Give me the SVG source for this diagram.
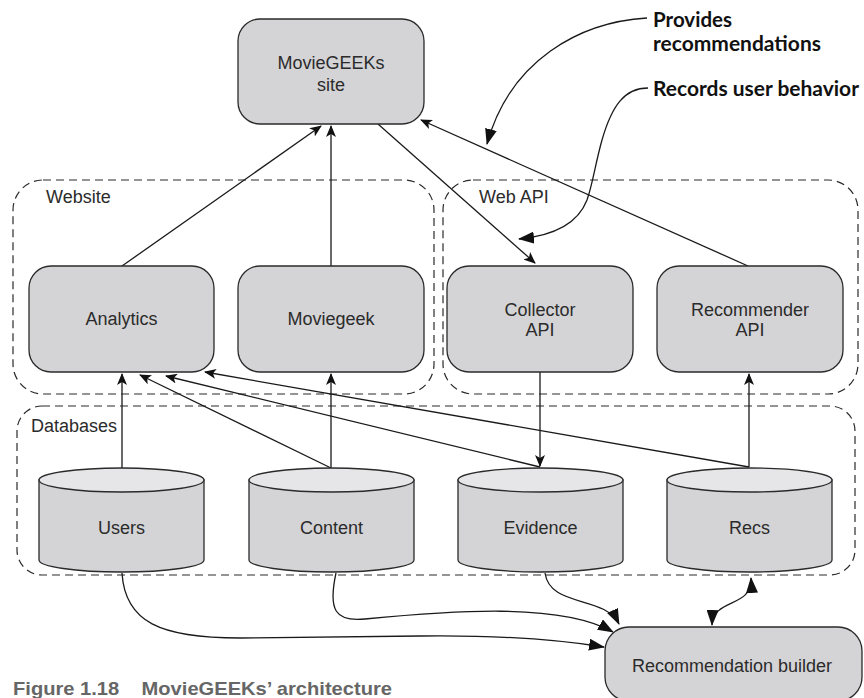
<svg xmlns="http://www.w3.org/2000/svg" width="864" height="698" viewBox="0 0 864 698">
<defs>
<style>
.box{fill:#d4d4d6;stroke:#2a2a2a;stroke-width:1.3}
.top{fill:#e6e6e8;stroke:#2a2a2a;stroke-width:1.3}
.grp{fill:none;stroke:#2a2a2a;stroke-width:1.2;stroke-dasharray:8 5}
.lbl{font-family:"Liberation Sans",Arial,sans-serif;font-size:18px;fill:#2b2b2b;text-anchor:middle}
.glbl{font-family:"Liberation Sans",Arial,sans-serif;font-size:18px;fill:#2b2b2b}
.ann{font-family:Lato,"Liberation Sans",sans-serif;font-weight:bold;font-size:20px;fill:#111}
.cap{font-family:"Liberation Sans",Arial,sans-serif;font-weight:bold;font-size:19px;fill:#666}
.con{fill:none;stroke:#1a1a1a;stroke-width:1.3}
</style>
<marker id="ah" viewBox="0 0 12 10" refX="11" refY="5" markerWidth="12" markerHeight="10" markerUnits="userSpaceOnUse" orient="auto">
<path d="M0,0 L12,5 L0,10 L3,5 Z" fill="#111"/>
</marker>
<marker id="ahb" viewBox="0 0 16 12" refX="15" refY="6" markerWidth="16" markerHeight="12" markerUnits="userSpaceOnUse" orient="auto">
<path d="M0,0 L16,6 L0,12 Z" fill="#111"/>
</marker>
<marker id="ahbs" viewBox="0 0 16 12" refX="1" refY="6" markerWidth="16" markerHeight="12" markerUnits="userSpaceOnUse" orient="auto">
<path d="M16,0 L0,6 L16,12 Z" fill="#111"/>
</marker>
</defs>
<rect width="864" height="698" fill="#fff"/>

<g id="group-website">
<rect class="grp" x="13" y="180" width="421" height="214" rx="30"/>
<text class="glbl" x="46" y="203">Website</text>
</g>
<g id="group-webapi">
<rect class="grp" x="443" y="180" width="415" height="214" rx="30"/>
<text class="glbl" x="479" y="203">Web API</text>
</g>
<g id="group-databases">
<rect class="grp" x="17" y="406" width="838" height="169" rx="25"/>
<text class="glbl" x="31" y="432">Databases</text>
</g>

<g id="connectors">
<line class="con" x1="122" y1="266" x2="321" y2="126" marker-end="url(#ah)"/>
<line class="con" x1="331" y1="266" x2="331" y2="126" marker-end="url(#ah)"/>
<line class="con" x1="378" y1="124" x2="535" y2="263" marker-end="url(#ah)"/>
<line class="con" x1="748" y1="266" x2="421" y2="120" marker-end="url(#ah)"/>
<line class="con" x1="122" y1="468" x2="122" y2="374" marker-end="url(#ah)"/>
<line class="con" x1="331" y1="468" x2="140" y2="375" marker-end="url(#ah)"/>
<line class="con" x1="331" y1="468" x2="331" y2="374" marker-end="url(#ah)"/>
<line class="con" x1="540" y1="467" x2="166" y2="376" marker-end="url(#ah)"/>
<line class="con" x1="749" y1="467" x2="205" y2="372" marker-end="url(#ah)"/>
<line class="con" x1="540" y1="372" x2="540" y2="466" marker-end="url(#ah)"/>
<line class="con" x1="749" y1="467" x2="749" y2="374" marker-end="url(#ah)"/>
<path class="con" d="M122,573 C125,622 160,638 240,638 L420,636 C500,635 560,640 604,647" marker-end="url(#ahb)"/>
<path class="con" d="M336,573 C328,610 335,622 365,619 C450,611 560,602 613,632" marker-end="url(#ahb)"/>
<path class="con" d="M545,573 C550,608 605,595 619,624" marker-end="url(#ahb)"/>
<path class="con" d="M751,578 C753,608 713,598 712,625" marker-start="url(#ahbs)" marker-end="url(#ahb)"/>
<path class="con" d="M647,18 C580,22 510,60 487,144" marker-end="url(#ahb)"/>
<path class="con" d="M648,88 C625,88 612,105 602,140 C595,165 593,183 587,200 C577,226 550,236 519,239" marker-end="url(#ahb)"/>
</g>

<g id="node-site">
<rect class="box" x="238" y="19" width="186" height="105" rx="22"/>
<text class="lbl" x="331" y="69">MovieGEEKs</text>
<text class="lbl" x="331" y="91">site</text>
</g>
<g id="node-analytics">
<rect class="box" x="29" y="266" width="185" height="106" rx="22"/>
<text class="lbl" x="121.5" y="325">Analytics</text>
</g>
<g id="node-moviegeek">
<rect class="box" x="238" y="266" width="186" height="106" rx="22"/>
<text class="lbl" x="331" y="325">Moviegeek</text>
</g>
<g id="node-collector">
<rect class="box" x="447" y="266" width="186" height="106" rx="22"/>
<text class="lbl" x="540" y="316">Collector</text>
<text class="lbl" x="540" y="336">API</text>
</g>
<g id="node-recommender">
<rect class="box" x="657" y="266" width="186" height="106" rx="22"/>
<text class="lbl" x="750" y="316">Recommender</text>
<text class="lbl" x="750" y="336">API</text>
</g>

<g id="node-users">
<path class="box" d="M39,480 V560 A82.5,12 0 0 0 204,560 V480 Z"/>
<ellipse class="top" cx="121.5" cy="480" rx="82.5" ry="12"/>
<text class="lbl" x="121.5" y="534">Users</text>
</g>
<g id="node-content">
<path class="box" d="M249,480 V560 A82.5,12 0 0 0 414,560 V480 Z"/>
<ellipse class="top" cx="331.5" cy="480" rx="82.5" ry="12"/>
<text class="lbl" x="331.5" y="534">Content</text>
</g>
<g id="node-evidence">
<path class="box" d="M458,480 V560 A82.5,12 0 0 0 623,560 V480 Z"/>
<ellipse class="top" cx="540.5" cy="480" rx="82.5" ry="12"/>
<text class="lbl" x="540.5" y="534">Evidence</text>
</g>
<g id="node-recs">
<path class="box" d="M667,480 V560 A82.5,12 0 0 0 832,560 V480 Z"/>
<ellipse class="top" cx="749.5" cy="480" rx="82.5" ry="12"/>
<text class="lbl" x="749.5" y="534">Recs</text>
</g>

<g id="node-builder">
<rect class="box" x="605" y="627" width="257" height="74" rx="24"/>
<text class="lbl" x="732" y="672">Recommendation builder</text>
</g>

<g id="annotations">
<text class="ann" x="653" y="27" textLength="79" lengthAdjust="spacingAndGlyphs">Provides</text>
<text class="ann" x="653" y="51" textLength="168" lengthAdjust="spacingAndGlyphs">recommendations</text>
<text class="ann" x="653" y="96" textLength="206" lengthAdjust="spacingAndGlyphs">Records user behavior</text>
</g>

<text class="cap" x="13" y="695" xml:space="preserve" textLength="379" lengthAdjust="spacingAndGlyphs">Figure 1.18    MovieGEEKs’ architecture</text>
</svg>
